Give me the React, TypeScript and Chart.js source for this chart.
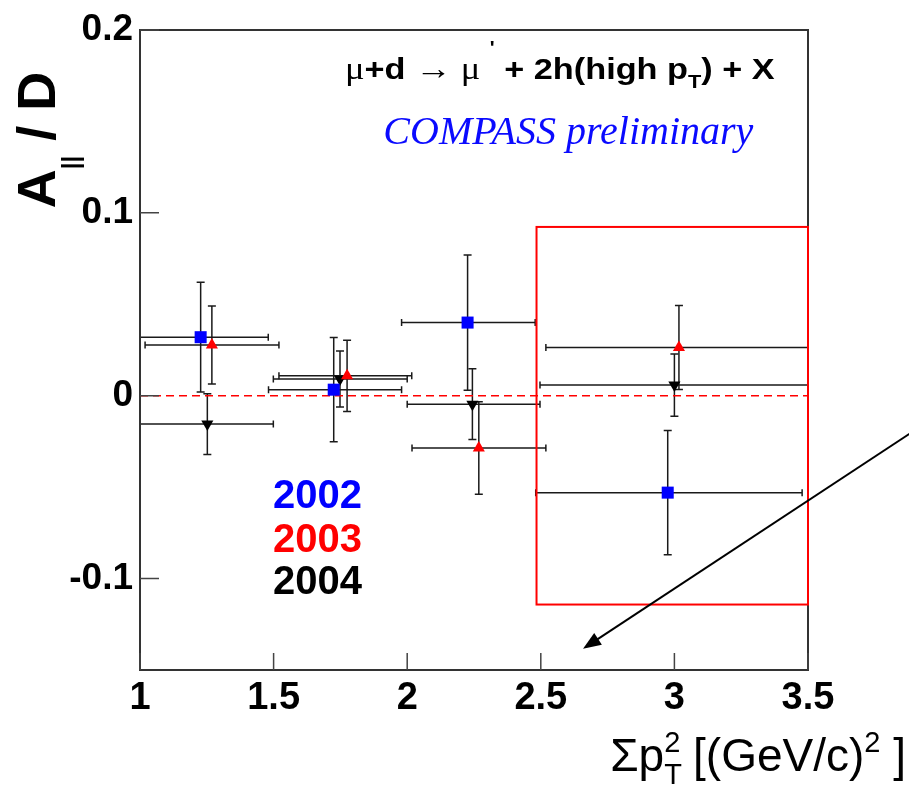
import React, { useEffect, useRef } from "react";
import { Chart, registerables } from "chart.js";

Chart.register(...registerables);

// ---- axes ----
const xTickValues = [1, 1.5, 2, 2.5, 3, 3.5];
const xTickLabels = ["1", "1.5", "2", "2.5", "3", "3.5"];
const yTickValues = [-0.1, 0, 0.1, 0.2];
const yTickLabels = ["-0.1", "0", "0.1", "0.2"];
const xRange = [1, 3.5];
const yRange = [-0.15, 0.2];

// ---- 2002 (blue squares) ----
const x2002 = [1.227, 1.725, 2.226, 2.975];
const y2002 = [0.032, 0.0033, 0.04, -0.053];
const yErr2002 = [0.03, 0.0285, 0.037, 0.034];
const xLow2002 = [1.0, 1.481, 1.979, 2.481];
const xHigh2002 = [1.48, 1.979, 2.479, 3.478];

// ---- 2003 (red triangles) ----
const x2003 = [1.269, 1.775, 2.268, 3.017];
const y2003 = [0.0277, 0.0109, -0.0286, 0.0264];
const yErr2003 = [0.0213, 0.0195, 0.0253, 0.023];
const xLow2003 = [1.019, 1.52, 2.018, 2.519];
const xHigh2003 = [1.52, 2.017, 2.519, 3.6];

// ---- 2004 (black inverted triangles) ----
const x2004 = [1.252, 1.7485, 2.244, 3.0];
const y2004 = [-0.0155, 0.0091, -0.0046, 0.0058];
const yErr2004 = [0.0166, 0.0153, 0.0194, 0.017];
const xLow2004 = [1.0, 1.499, 2.0, 2.497];
const xHigh2004 = [1.499, 2.0, 2.497, 3.6];

const yearLabels = ["2002", "2003", "2004"];
const yearColors = ["#0000ff", "#ff0000", "#000000"];

// ---- annotations (data coordinates) ----
const zeroLineX = [1, 3.5];
const boxX = [2.484, 3.5];
const boxY = [-0.1142, 0.0923];
const arrowFrom = [3.88, -0.0208];
const arrowTo = [2.658, -0.1384];
const headerPos = [1.767, 0.1732];
const headerEndX = 3.375;
const compassPos = [2.603, 0.1377];
const legendX = 1.498;
const legendY = [-0.0612, -0.0852, -0.1087];

const series = [
  { x: x2002, y: y2002, e: yErr2002, lo: xLow2002, hi: xHigh2002 },
  { x: x2003, y: y2003, e: yErr2003, lo: xLow2003, hi: xHigh2003 },
  { x: x2004, y: y2004, e: yErr2004, lo: xLow2004, hi: xHigh2004 },
];

const SANS = "'Liberation Sans', Arial, Helvetica, sans-serif";
const SERIF = "'Liberation Serif', 'DejaVu Serif', 'Times New Roman', serif";
const B = (s: number) => `bold ${s}px ${SANS}`;
const R = (s: number) => `${s}px ${SANS}`;
const S = (s: number) => `${s}px ${SERIF}`;

type Part = { t: string; f: string; dy?: number };

function richWidth(ctx: CanvasRenderingContext2D, parts: Part[]) {
  let w = 0;
  parts.forEach((p) => {
    ctx.font = p.f;
    w += ctx.measureText(p.t).width;
  });
  return w;
}
function drawRich(ctx: CanvasRenderingContext2D, parts: Part[], x: number, y: number) {
  let cx = x;
  parts.forEach((p) => {
    ctx.font = p.f;
    ctx.fillText(p.t, cx, y + (p.dy || 0));
    cx += ctx.measureText(p.t).width;
  });
}

const overlay = {
  id: "overlay",
  beforeDatasetsDraw(chart: any) {
    const { ctx, chartArea: a, scales } = chart;
    const xs = scales.x, ys = scales.y;
    ctx.save();
    ctx.beginPath();
    ctx.rect(a.left, a.top, a.right - a.left, a.bottom - a.top);
    ctx.clip();
    ctx.strokeStyle = "#1a1a1a";
    ctx.lineWidth = 1.5;
    series.forEach((s) => {
      s.x.forEach((xv, i) => {
        const px = xs.getPixelForValue(xv);
        const py = ys.getPixelForValue(s.y[i]);
        const xl = xs.getPixelForValue(s.lo[i]);
        const xh = xs.getPixelForValue(s.hi[i]);
        const yt = ys.getPixelForValue(s.y[i] + s.e[i]);
        const yb = ys.getPixelForValue(s.y[i] - s.e[i]);
        ctx.beginPath();
        ctx.moveTo(xl, py); ctx.lineTo(xh, py);
        ctx.moveTo(xl, py - 3.5); ctx.lineTo(xl, py + 3.5);
        ctx.moveTo(xh, py - 3.5); ctx.lineTo(xh, py + 3.5);
        ctx.moveTo(px, yt); ctx.lineTo(px, yb);
        ctx.moveTo(px - 4, yt); ctx.lineTo(px + 4, yt);
        ctx.moveTo(px - 4, yb); ctx.lineTo(px + 4, yb);
        ctx.stroke();
      });
    });
    ctx.restore();
  },
  afterDatasetsDraw(chart: any) {
    const { ctx, chartArea: a, scales } = chart;
    const xs = scales.x, ys = scales.y;
    ctx.save();
    // frame
    ctx.strokeStyle = "#333333";
    ctx.lineWidth = 2;
    ctx.strokeRect(a.left, a.top, a.right - a.left, a.bottom - a.top);
    // ticks
    ctx.lineWidth = 1.5;
    ctx.strokeStyle = "#444444";
    ctx.beginPath();
    xTickValues.forEach((v) => {
      const px = xs.getPixelForValue(v);
      ctx.moveTo(px, a.bottom);
      ctx.lineTo(px, a.bottom - 17);
    });
    yTickValues.forEach((v) => {
      const py = ys.getPixelForValue(v);
      ctx.moveTo(a.left, py);
      ctx.lineTo(a.left + 19, py);
    });
    ctx.stroke();
    // red highlight box
    ctx.strokeStyle = "#ff0000";
    ctx.lineWidth = 2;
    const bx0 = xs.getPixelForValue(boxX[0]);
    const bx1 = xs.getPixelForValue(boxX[1]);
    const by0 = ys.getPixelForValue(boxY[1]);
    const by1 = ys.getPixelForValue(boxY[0]);
    ctx.strokeRect(bx0, by0, bx1 - bx0, by1 - by0);
    ctx.restore();
  },
  afterDraw(chart: any) {
    const { ctx, scales } = chart;
    const xs = scales.x, ys = scales.y;
    ctx.save();
    ctx.textBaseline = "alphabetic";
    ctx.textAlign = "left";
    // header (stretched horizontally to span from headerPos to headerEndX)
    ctx.fillStyle = "#000";
    const header: Part[] = [
      { t: "\u03bc", f: S(32) },
      { t: "+d ", f: B(30) },
      { t: "\u2192", f: S(32) },
      { t: " \u03bc", f: S(32) },
      { t: " ", f: B(30) },
      { t: "'", f: B(18), dy: -25 },
      { t: " + 2h(high p", f: B(30) },
      { t: "T", f: B(19), dy: 9 },
      { t: ") + X", f: B(30) },
    ];
    const hx0 = xs.getPixelForValue(headerPos[0]);
    const hx1 = xs.getPixelForValue(headerEndX);
    const hy = ys.getPixelForValue(headerPos[1]);
    const hw = richWidth(ctx, header);
    ctx.save();
    ctx.translate(hx0, hy);
    ctx.scale((hx1 - hx0) / hw, 1);
    drawRich(ctx, header, 0, 0);
    ctx.restore();
    // COMPASS preliminary
    ctx.fillStyle = "#0a0aff";
    ctx.font = `italic 40px ${SERIF}`;
    ctx.textAlign = "center";
    ctx.fillText("COMPASS preliminary", xs.getPixelForValue(compassPos[0]), ys.getPixelForValue(compassPos[1]));
    // legend years
    ctx.textAlign = "left";
    ctx.font = B(40);
    yearLabels.forEach((lab, i) => {
      ctx.fillStyle = yearColors[i];
      ctx.fillText(lab, xs.getPixelForValue(legendX), ys.getPixelForValue(legendY[i]));
    });
    // arrow
    const ax0 = xs.getPixelForValue(arrowFrom[0]);
    const ay0 = ys.getPixelForValue(arrowFrom[1]);
    const ax1 = xs.getPixelForValue(arrowTo[0]);
    const ay1 = ys.getPixelForValue(arrowTo[1]);
    const ang = Math.atan2(ay1 - ay0, ax1 - ax0);
    const hl = 18, hwid = 7;
    ctx.strokeStyle = "#000";
    ctx.fillStyle = "#000";
    ctx.lineWidth = 2;
    ctx.beginPath();
    ctx.moveTo(ax0, ay0);
    ctx.lineTo(ax1 - Math.cos(ang) * hl * 0.8, ay1 - Math.sin(ang) * hl * 0.8);
    ctx.stroke();
    ctx.beginPath();
    ctx.moveTo(ax1, ay1);
    ctx.lineTo(ax1 - Math.cos(ang) * hl - Math.sin(ang) * hwid, ay1 - Math.sin(ang) * hl + Math.cos(ang) * hwid);
    ctx.lineTo(ax1 - Math.cos(ang) * hl + Math.sin(ang) * hwid, ay1 - Math.sin(ang) * hl - Math.cos(ang) * hwid);
    ctx.closePath();
    ctx.fill();
    // x-axis title (right aligned)
    ctx.fillStyle = "#000";
    const xt: Part[] = [
      { t: "\u03a3p", f: R(46) },
      { t: "2", f: R(29), dy: -19 },
      { t: " [(GeV/c)", f: R(46) },
      { t: "2", f: R(29), dy: -19 },
      { t: " ]", f: R(46) },
    ];
    const xtw = richWidth(ctx, xt);
    const xStart = 906 - xtw;
    drawRich(ctx, xt, xStart, 771);
    ctx.font = R(46);
    const sw = ctx.measureText("\u03a3p").width;
    ctx.font = R(29);
    ctx.fillText("T", xStart + sw, 784);
    // y-axis title rotated
    ctx.translate(55, 140);
    ctx.rotate(-Math.PI / 2);
    const yt: Part[] = [
      { t: "A", f: B(54) },
      { t: "||", f: B(24), dy: 24 },
      { t: " / D", f: B(54) },
    ];
    const ytw = richWidth(ctx, yt);
    drawRich(ctx, yt, -ytw / 2, 0);
    ctx.restore();
  },
};

export default function App() {
  const ref = useRef<HTMLCanvasElement | null>(null);
  useEffect(() => {
    if (!ref.current) return;
    const mk = (xa: number[], ya: number[]) => xa.map((v, i) => ({ x: v, y: ya[i] }));
    const chart = new Chart(ref.current, {
      type: "scatter",
      data: {
        datasets: [
          {
            label: yearLabels[0],
            data: mk(x2002, y2002),
            pointStyle: "rect",
            pointRadius: 8.5,
            backgroundColor: yearColors[0],
            borderColor: yearColors[0],
            borderWidth: 0,
          },
          {
            label: yearLabels[1],
            data: mk(x2003, y2003),
            pointStyle: "triangle",
            pointRadius: 7,
            backgroundColor: yearColors[1],
            borderColor: yearColors[1],
            borderWidth: 0,
          },
          {
            label: yearLabels[2],
            data: mk(x2004, y2004),
            pointStyle: "triangle",
            rotation: 180,
            pointRadius: 7,
            backgroundColor: yearColors[2],
            borderColor: yearColors[2],
            borderWidth: 0,
          },
          {
            type: "line",
            label: "zero",
            data: zeroLineX.map((v) => ({ x: v, y: 0 })),
            borderColor: "#ff0000",
            borderWidth: 1.5,
            borderDash: [8, 5],
            pointRadius: 0,
            fill: false,
          } as any,
        ],
      },
      options: {
        responsive: false,
        animation: false,
        devicePixelRatio: 1,
        layout: { padding: { left: 0, right: 101, top: 30, bottom: 0 } },
        plugins: { legend: { display: false }, tooltip: { enabled: false } },
        events: [],
        scales: {
          x: {
            type: "linear",
            min: xRange[0],
            max: xRange[1],
            border: { display: false },
            grid: { display: false, drawTicks: false },
            afterBuildTicks: (s: any) => { s.ticks = xTickValues.map((v) => ({ value: v })); },
            afterFit: (s: any) => { s.height = 115; },
            ticks: {
              color: "#000",
              padding: 6,
              font: { family: "'Liberation Sans', Arial, sans-serif", weight: "bold", size: 38 },
              callback: (_v: any, i: number) => xTickLabels[i],
              maxRotation: 0,
            },
          },
          y: {
            type: "linear",
            min: yRange[0],
            max: yRange[1],
            border: { display: false },
            grid: { display: false, drawTicks: false },
            afterBuildTicks: (s: any) => { s.ticks = yTickValues.map((v) => ({ value: v })); },
            afterFit: (s: any) => { s.width = 140; },
            ticks: {
              color: "#000",
              padding: 7,
              font: { family: "'Liberation Sans', Arial, sans-serif", weight: "bold", size: 37 },
              callback: (_v: any, i: number) => yTickLabels[i],
            },
          },
        },
      } as any,
      plugins: [overlay],
    });
    return () => chart.destroy();
  }, []);
  return (
    <div style={{ position: "absolute", left: 0, top: 0, width: 909, height: 785, background: "#fff" }}>
      <canvas ref={ref} width={909} height={785} />
    </div>
  );
}
